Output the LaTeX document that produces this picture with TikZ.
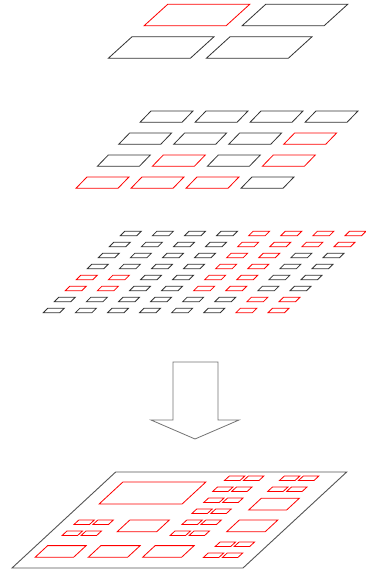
\documentclass[tikz,border=0pt]{standalone}
\usepackage{xcolor}
\usepackage{tikz}
\definecolor{CellRed}{HTML}{FF0000}
\definecolor{CellDark}{HTML}{333333}
\definecolor{PlaneGray}{HTML}{555555}

\begin{document}
\begin{tikzpicture}[
    x=1pt, y=-1pt,
    cellbox/.style={line width=0.8pt, line join=miter},
    cellR/.style={draw=CellRed},
    cellB/.style={draw=CellDark},
    plane/.style={draw=PlaneGray, line width=0.9pt},
    blockarr/.style={draw=black!55, line width=0.8pt, fill=white},
  ]

  \useasboundingbox (0,0) rectangle (366,571);

  % Level 1: 2 x 2 cells
  \begin{scope}[shift={(108.3pt,-58.3pt)}, x={(1pt,0pt)}, y={(1.1pt,1pt)}]
    \foreach \rw/\row in {0/{R,B}, 1/{B,B}} {
      \foreach \tone [count=\cl from 0] in \row {
        \draw[cellbox, cell\tone] ({98*\cl},{32.6*(1-\rw)}) -- ++(82,0) -- ++(0,21.5) -- ++(-82,0) -- cycle;
      }
    }
  \end{scope}

  % Level 2: 4 x 4 cells
  \begin{scope}[shift={(76pt,-188.3pt)}, x={(1pt,0pt)}, y={(0.97pt,1pt)}]
    \foreach \rw/\row in {0/{B,B,B,B}, 1/{B,B,B,R}, 2/{B,R,B,R}, 3/{R,R,R,B}} {
      \foreach \tone [count=\cl from 0] in \row {
        \draw[cellbox, cell\tone] ({55*\cl},{22*(3-\rw)}) -- ++(42,0) -- ++(0,11.3) -- ++(-42,0) -- cycle;
      }
    }
  \end{scope}

  % Level 3: 8 x 8 cells
  \begin{scope}[shift={(43.3pt,-312.7pt)}, x={(1pt,0pt)}, y={(1pt,1pt)}]
    \foreach \rw/\row in {0/{B,B,B,B,R,R,R,R}, 1/{B,B,B,B,R,R,R,R},
                          2/{B,B,B,B,R,R,B,B}, 3/{B,B,B,B,R,R,B,B},
                          4/{R,R,B,B,R,R,B,B}, 5/{R,R,B,B,R,R,B,B},
                          6/{B,B,B,B,B,B,R,R}, 7/{B,B,B,B,B,B,R,R}} {
      \foreach \tone [count=\cl from 0] in \row {
        \draw[cellbox, cell\tone] ({32.1*\cl},{11*(7-\rw)}) -- ++(16.5,0) -- ++(0,4.5) -- ++(-16.5,0) -- cycle;
      }
    }
  \end{scope}

  % Block arrow
  \draw[blockarr] (173,362) -- (218,362) -- (218,420) -- (239,420)
    -- (195,439) -- (151,420) -- (173,420) -- cycle;

  % Merged plane
  \begin{scope}[shift={(12pt,-568pt)}, x={(1pt,0pt)}, y={(1.08pt,1pt)}]
    \draw[plane] (0,0) -- (231,0) -- (231,96) -- (0,96) -- cycle;

    % large cell
    \draw[cellbox, cellR] (18,64) -- ++(83,0) -- ++(0,22) -- ++(-83,0) -- cycle;

    % medium cells
    \foreach \u/\v/\w in {174/58/38, 66/36.3/39.5, 175.5/36.3/38.5,
                          11.5/10.7/38.5, 64.7/10.7/39.3, 119/10.7/39} {
      \draw[cellbox, cellR] (\u,\v) -- ++(\w,0) -- ++(0,11.7) -- ++(-\w,0) -- cycle;
    }

    % small cells, in 2 x 2 groups
    \foreach \u/\t in {118/92, 173/92, 121/70, 15/48, 123/48, 180/26} {
      \foreach \du in {0,19} {
        \foreach \dv in {4.5,15.5} {
          \draw[cellbox, cellR] ({\u+\du},{\t-\dv}) -- ++(15.5,0) -- ++(0,4.5) -- ++(-15.5,0) -- cycle;
        }
      }
    }
  \end{scope}

\end{tikzpicture}
\end{document}
